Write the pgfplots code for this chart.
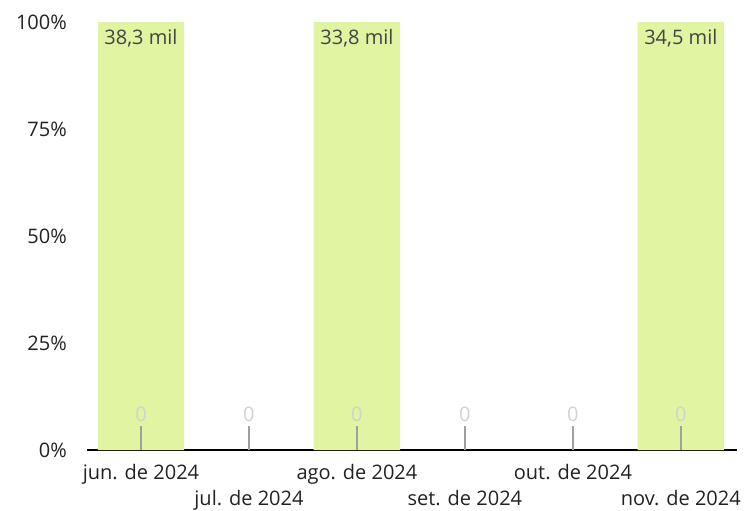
\documentclass[border=0pt]{standalone}
\usepackage{fontspec}
\setmainfont{Open Sans}
\usepackage{pgfplots}
\pgfplotsset{compat=1.18}
\definecolor{barg}{HTML}{E0F4A2}
\definecolor{stemg}{HTML}{A0A0A0}
\definecolor{zerog}{HTML}{D2D2D2}
\definecolor{valg}{HTML}{444444}
\definecolor{tickc}{HTML}{222222}
\begin{document}
\begin{tikzpicture}
\begin{axis}[
  scale only axis,
  width=650bp, height=428bp,
  xmin=-0.5, xmax=5.52,
  ymin=0, ymax=100,
  clip=false,
  axis lines*=left,
  separate axis lines,
  y axis line style={draw=none},
  x axis line style={black, line width=2.5bp, -},
  tick style={draw=none},
  ytick={0,25,50,75,100},
  yticklabel={\pgfmathprintnumber{\tick}\%},
  yticklabel style={anchor=east, inner sep=0pt, xshift=-20bp, font=\fontsize{20bp}{24bp}\selectfont, text=tickc},
  /pgf/number format/assume math mode=true,
  xtick={0,2,4},
  xticklabels={jun. de 2024, ago. de 2024, out. de 2024},
  xticklabel style={anchor=north, inner sep=0pt, yshift=-14bp, font=\fontsize{20bp}{24bp}\selectfont, text=tickc},
  extra x ticks={1,3,5},
  extra x tick labels={jul. de 2024, set. de 2024, nov. de 2024},
  extra x tick style={xticklabel style={yshift=-26bp}},
]
\addplot[ybar, bar width=0.8, bar shift=0pt, fill=barg, draw=none,
  point meta=explicit symbolic,
  nodes near coords,
  every node near coord/.style={anchor=north, inner sep=0pt, yshift=-7bp, font=\fontsize{20bp}{24bp}\selectfont, text=valg}]
  coordinates {(0,100) [38,3 mil] (2,100) [33,8 mil] (5,100) [34,5 mil]};
\addplot[ycomb, draw=stemg, line width=2.2bp, mark=none,
  point meta=explicit symbolic,
  nodes near coords,
  every node near coord/.style={anchor=south, inner sep=0pt, yshift=3bp, font=\fontsize{20bp}{24bp}\selectfont, text=zerog}]
  coordinates {(0,5.6) [0] (1,5.6) [0] (2,5.6) [0] (3,5.6) [0] (4,5.6) [0] (5,5.6) [0]};
\path ([xshift=-87bp,yshift=-59bp]rel axis cs:0,0) rectangle ([xshift=9bp,yshift=22bp]rel axis cs:1,1);
\end{axis}
\end{tikzpicture}
\end{document}
